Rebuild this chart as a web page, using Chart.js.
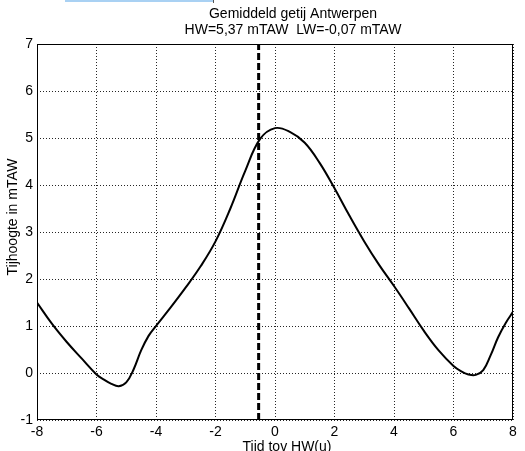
<!DOCTYPE html>
<html>
<head>
<meta charset="utf-8">
<script src="https://cdn.jsdelivr.net/npm/chart.js@4.4.1/dist/chart.umd.min.js"></script>
<style>
  body { margin: 0; background: #fff; }
  #wrap { position: relative; width: 525px; height: 451px; }
  #link { position: absolute; left: 65px; top: 0; width: 148px; height: 2px; background: #a9d1f3; }
  #link:after { content: ''; position: absolute; right: -1px; top: 0; width: 1px; height: 3px; background: #555; }
</style>
</head>
<body>
<div id="wrap">
  <canvas id="c" width="525" height="451"></canvas>
  <div id="link"></div>
</div>
<script>
// getijkromme
const tijd = [-8, -7.5, -7, -6.5, -6, -5.75, -5.5, -5.25, -5, -4.75, -4.5, -4.25, -4,
  -3.5, -3, -2.5, -2, -1.5, -1, -0.5, 0, 0.5, 1, 1.5, 2, 2.5, 3, 3.5, 4, 4.5, 5, 5.5,
  6, 6.25, 6.5, 6.75, 7, 7.25, 7.5, 7.75, 8];
const hoogte = [1.5, 1.05, 0.66, 0.31, -0.03, -0.14, -0.23, -0.28, -0.2, 0.08, 0.48, 0.79, 1.0,
  1.4, 1.82, 2.27, 2.8, 3.5, 4.3, 4.98, 5.21, 5.13, 4.9, 4.47, 3.93, 3.35, 2.8, 2.3, 1.85, 1.38, 0.9, 0.48,
  0.15, 0.04, -0.03, -0.04, 0.06, 0.38, 0.76, 1.06, 1.3];
const hwTijd = -0.55;
const xTicks = [-8, -6, -4, -2, 0, 2, 4, 6, 8];
const yTicks = [-1, 0, 1, 2, 3, 4, 5, 6, 7];
const titel = ['Gemiddeld getij Antwerpen', 'HW=5,37 mTAW  LW=-0,07 mTAW'];
const xTitel = 'Tijd tov HW(u)';
const yTitel = 'Tijhoogte in mTAW';

const FONT = 'Arial, "Liberation Sans", sans-serif';

const textPlugin = {
    id: 'matlabLook',
    afterDraw(chart) {
        const ctx = chart.ctx;
        const a = chart.chartArea;
        ctx.save();
        // axes box
        ctx.strokeStyle = '#000';
        ctx.lineWidth = 1;
        ctx.setLineDash([]);
        ctx.strokeRect(a.left + 0.5, a.top + 0.5, a.right - a.left - 1, a.bottom - a.top - 1);
        ctx.fillStyle = '#000';
        ctx.font = '14px ' + FONT;
        ctx.textAlign = 'center';
        ctx.textBaseline = 'middle';
        ctx.fillText(titel[0], 293, 14);
        ctx.fillText(titel[1], 293, 30);
        ctx.fillText(xTitel, 287, 447);
        ctx.translate(13, 217);
        ctx.rotate(-Math.PI / 2);
        ctx.fillText(yTitel, 0, 0);
        ctx.restore();
    }
};

new Chart(document.getElementById('c'), {
    type: 'line',
    data: {
        datasets: [
            {
                data: tijd.map((t, i) => ({ x: t, y: hoogte[i] })),
                borderColor: '#000',
                borderWidth: 2,
                pointRadius: 0,
                tension: 0.4,
                fill: false
            },
            {
                data: [{ x: hwTijd, y: -1 }, { x: hwTijd, y: 7 }],
                borderColor: '#000',
                borderWidth: 3,
                borderDash: [7, 3],
                pointRadius: 0,
                fill: false
            }
        ]
    },
    options: {
        responsive: false,
        animation: false,
        layout: { padding: { top: 44, right: 12, left: 0, bottom: 0 } },
        plugins: { legend: { display: false }, tooltip: { enabled: false }, title: { display: false } },
        scales: {
            x: {
                type: 'linear',
                min: -8, max: 8,
                afterBuildTicks: s => { s.ticks = xTicks.map(v => ({ value: v })); },
                afterFit: s => { s.height = 31; },
                grid: { color: 'rgba(0,0,0,0.85)', lineWidth: 1, drawTicks: false },
                border: { display: false, dash: [1, 2] },
                ticks: { color: '#000', font: { size: 14, family: FONT }, padding: 4, maxRotation: 0 }
            },
            y: {
                min: -1, max: 7,
                afterBuildTicks: s => { s.ticks = yTicks.map(v => ({ value: v })); },
                afterFit: s => { s.width = 37; },
                grid: { color: 'rgba(0,0,0,0.85)', lineWidth: 1, drawTicks: false },
                border: { display: false, dash: [1, 2] },
                ticks: { color: '#000', font: { size: 14, family: FONT }, padding: 4 }
            }
        }
    },
    plugins: [textPlugin]
});
</script>
</body>
</html>
